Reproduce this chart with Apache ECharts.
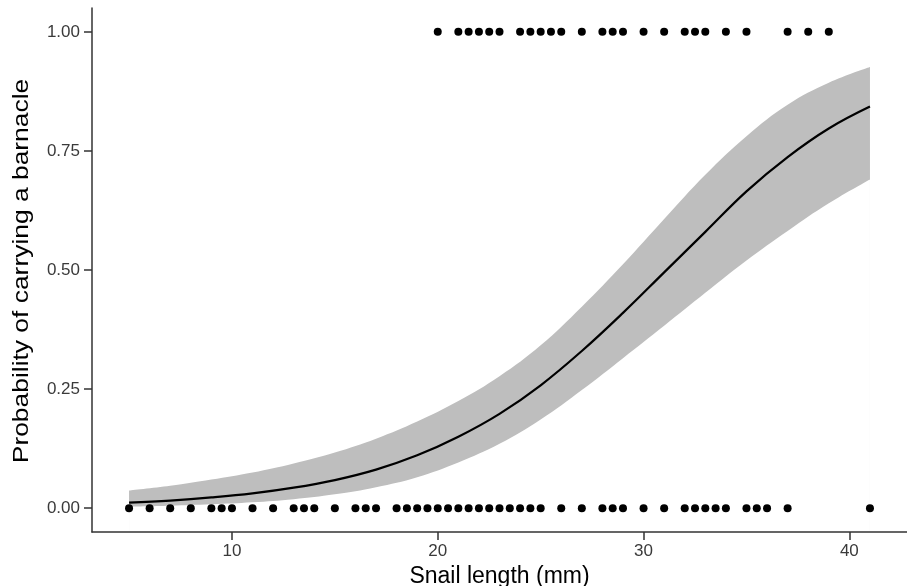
<!DOCTYPE html>
<html><head><meta charset="utf-8">
<script src="https://cdn.jsdelivr.net/npm/echarts@6/dist/echarts.min.js"></script>
<style>html,body{margin:0;padding:0;background:#fff}#c{width:907px;height:586px}</style>
</head><body><div id="c"></div>
<script>
// Observed snails: lengths (mm) with a barnacle (1) and without (0)
const lengthsWithBarnacle = [20,21,21.5,22,22.5,23,24,24.5,25,25.5,26,27,28,28.5,29,30,31,32,32.5,33,34,35,37,38,39];
const lengthsWithoutBarnacle = [5,6,7,8,9,9.5,10,11,12,13,13.5,14,15,16,16.5,17,18,18.5,19,19.5,20,20.5,21,21.5,22,22.5,23,23.5,24,24.5,25,26,27,28,28.5,29,30,31,32,32.5,33,33.5,34,35,35.5,36,37,41];
// Fitted curve and confidence band
const curveX = [5,7,9,11,13,15,17,19,21,23,25,27,29,31,33,35,37,39,41];
const fitP   = [0.0115,0.016,0.0225,0.031,0.043,0.059,0.081,0.111,0.150,0.198,0.258,0.330,0.410,0.495,0.580,0.665,0.737,0.797,0.843];
const upperP = [0.037,0.047,0.060,0.075,0.094,0.117,0.146,0.182,0.225,0.277,0.342,0.423,0.512,0.607,0.700,0.781,0.847,0.893,0.926];
const lowerP = [0.0035,0.0053,0.0082,0.0125,0.019,0.029,0.044,0.065,0.096,0.135,0.186,0.248,0.315,0.383,0.452,0.520,0.582,0.640,0.690];
const xTicks = [10,20,30,40];
const yTicks = [0,0.25,0.5,0.75,1];
const xTitle = 'Snail length (mm)';
const yTitle = 'Probability of carrying a barnacle';

const font = "'Liberation Sans', Arial, Helvetica, sans-serif";
const axisColor = '#333';
const chart = echarts.init(document.getElementById('c'), null, {renderer:'canvas'});
chart.setOption({
  animation:false,
  backgroundColor:'#fff',
  grid:{left:92, right:0, top:8, bottom:54, containLabel:false, outerBoundsMode:'none'},
  graphic:[{
    type:'text', x:22, y:271, rotation:Math.PI/2, scaleX:1.2, z:10,
    style:{text:yTitle, font:"22px "+font, fill:'#000', textAlign:'center', textVerticalAlign:'middle'}
  }],
  xAxis:{
    type:'value', min:3.2, max:42.8, z:10,
    name:xTitle, nameLocation:'middle', nameGap:33,
    nameTextStyle:{fontFamily:font, fontSize:23, color:'#000'},
    axisLine:{show:true, onZero:false, lineStyle:{color:axisColor, width:1.5}},
    axisTick:{show:true, length:8, customValues:xTicks, lineStyle:{color:axisColor, width:1.5}},
    axisLabel:{show:true, customValues:xTicks, margin:11, fontFamily:font, fontSize:17, color:'#3a3a3a'},
    splitLine:{show:false}
  },
  yAxis:{
    type:'value', min:-0.05, max:1.05, z:10,
    axisLine:{show:true, onZero:false, lineStyle:{color:axisColor, width:1.5}},
    axisTick:{show:true, length:8, customValues:yTicks, lineStyle:{color:axisColor, width:1.5}},
    axisLabel:{show:true, customValues:yTicks, margin:12, fontFamily:font, fontSize:17, color:'#3a3a3a',
      formatter:v=>v.toFixed(2)},
    splitLine:{show:false}
  },
  series:[
    {type:'line', data:curveX.map((x,i)=>[x,upperP[i]]), symbol:'none', smooth:0.4,
     lineStyle:{opacity:0}, areaStyle:{color:'#bebebe', opacity:1, origin:'start'}, silent:true, z:1},
    {type:'line', data:curveX.map((x,i)=>[x,lowerP[i]]), symbol:'none', smooth:0.4,
     lineStyle:{opacity:0}, areaStyle:{color:'#ffffff', opacity:1, origin:'start'}, silent:true, z:2},
    {type:'line', data:curveX.map((x,i)=>[x,fitP[i]]), symbol:'none', smooth:0.4,
     lineStyle:{color:'#000', width:2.2}, z:3},
    {type:'scatter', data:lengthsWithBarnacle.map(x=>[x,1]), symbolSize:8, itemStyle:{color:'#000', opacity:1}, z:4},
    {type:'scatter', data:lengthsWithoutBarnacle.map(x=>[x,0]), symbolSize:8, itemStyle:{color:'#000', opacity:1}, z:4}
  ]
});
</script></body></html>
